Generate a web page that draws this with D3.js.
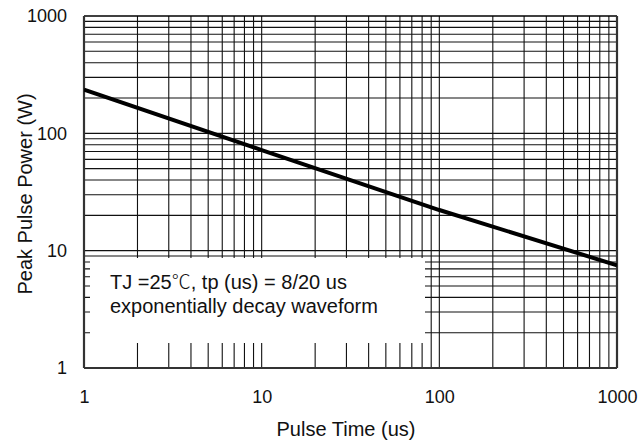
<!DOCTYPE html>
<html>
<head>
<meta charset="utf-8">
<script src="https://cdn.jsdelivr.net/npm/d3@7/dist/d3.min.js"></script>
<style>
  html, body { margin: 0; padding: 0; background: #fff; }
  svg { display: block; }
  text { font-family: "Liberation Sans", Arial, sans-serif; fill: #111; }
</style>
</head>
<body>
<svg id="chart" width="640" height="443"></svg>
<script>
// ---- data ----
const pulseTime = [1, 10, 100, 1000];          // us
const peakPower = [236, 72, 22.2, 7.5];        // W
const xTickValues = [1, 10, 100, 1000];
const yTickValues = [1, 10, 100, 1000];
const xTitle = "Pulse Time (us)";
const yTitle = "Peak Pulse Power (W)";
const noteLine1 = ["TJ =25", "\u2103", ", tp (us) = 8/20 us"];
const noteLine2 = "exponentially decay waveform";

// ---- layout ----
const W = 640, H = 443;
const L = 84, R = 617, T = 16, B = 368;
const svg = d3.select("#chart");

const x = d3.scaleLog().domain([1, 1000]).range([L, R]);
const y = d3.scaleLog().domain([1, 1000]).range([B, T]);

// grid
const gx = x.ticks().filter(v => v > 1 && v < 1000);
const gy = y.ticks().filter(v => v > 1 && v < 1000);
const grid = svg.append("g").attr("stroke", "#111").attr("stroke-width", 1.1);
grid.selectAll("line.v").data(gx).enter().append("line")
  .attr("x1", d => x(d)).attr("x2", d => x(d)).attr("y1", T).attr("y2", B);
grid.selectAll("line.h").data(gy).enter().append("line")
  .attr("x1", L).attr("x2", R).attr("y1", d => y(d)).attr("y2", d => y(d));

// note box (white, covers grid)
svg.append("rect").attr("x", 90).attr("y", 258).attr("width", 335).attr("height", 85).attr("fill", "#fff");
const t1 = svg.append("text").attr("x", 110).attr("y", 289).attr("font-size", 20);
t1.append("tspan").text(noteLine1[0]);
t1.append("tspan").attr("font-family", '"Noto Sans CJK SC", sans-serif').attr("font-size", 19).attr("font-weight", 300).text(noteLine1[1]);
t1.append("tspan").text(noteLine1[2]);
svg.append("text").attr("x", 110).attr("y", 313).attr("font-size", 20).text(noteLine2);

// frame
svg.append("line").attr("x1", L).attr("x2", R).attr("y1", T).attr("y2", T).attr("stroke", "#000").attr("stroke-width", 1.5);
svg.append("line").attr("x1", R).attr("x2", R).attr("y1", T).attr("y2", B).attr("stroke", "#333").attr("stroke-width", 2.2);
svg.append("line").attr("x1", L).attr("x2", L).attr("y1", T).attr("y2", B).attr("stroke", "#333").attr("stroke-width", 2.2);
svg.append("line").attr("x1", L).attr("x2", R).attr("y1", B).attr("y2", B).attr("stroke", "#333").attr("stroke-width", 2.2);

// curve
svg.append("defs").append("clipPath").attr("id", "clip").append("rect")
  .attr("x", L).attr("y", T).attr("width", R - L).attr("height", B - T);
const pts = pulseTime.map((t, i) => [t, peakPower[i]]);
svg.append("path").datum(pts)
  .attr("clip-path", "url(#clip)")
  .attr("d", d3.line().x(d => x(d[0])).y(d => y(d[1])))
  .attr("fill", "none").attr("stroke", "#000").attr("stroke-width", 4);

// axes labels
const xAxis = d3.axisBottom(x).tickValues(xTickValues).tickSize(0).tickPadding(22).tickFormat(d3.format("d"));
const gxA = svg.append("g").attr("transform", `translate(0,${B})`).call(xAxis);
const yAxis = d3.axisLeft(y).tickValues(yTickValues).tickSize(0).tickPadding(17).tickFormat(d3.format("d"));
const gyA = svg.append("g").attr("transform", `translate(${L},0)`).call(yAxis);
[gxA, gyA].forEach(g => {
  g.select(".domain").remove();
  g.selectAll("text").attr("font-size", 18).attr("font-family", '"Liberation Sans", Arial, sans-serif').attr("fill", "#111");
});

svg.append("text").attr("x", 346).attr("y", 436).attr("text-anchor", "middle").attr("font-size", 20).text(xTitle);
svg.append("text").attr("transform", "translate(32,194) rotate(-90)").attr("text-anchor", "middle").attr("font-size", 20).text(yTitle);
</script>
</body>
</html>
